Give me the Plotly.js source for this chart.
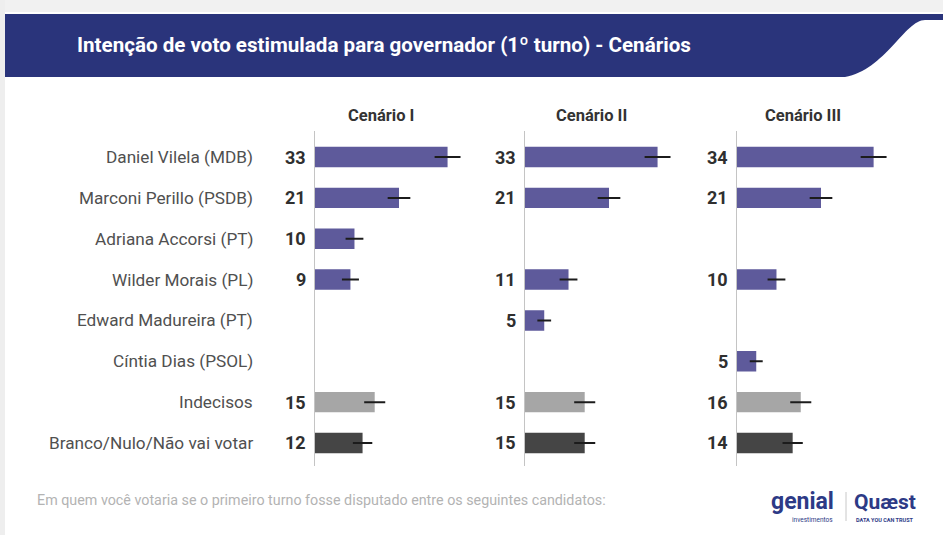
<!DOCTYPE html>
<html>
<head>
<meta charset="utf-8">
<script src="https://cdn.plot.ly/plotly-3.0.1.min.js"></script>
<style>html,body{margin:0;padding:0;background:#fff}#chart{width:943px;height:535px}</style>
</head>
<body>
<div id="chart"></div>
<script>
// ---- data ----
const categories = [
  "Daniel Vilela (MDB)",
  "Marconi Perillo (PSDB)",
  "Adriana Accorsi (PT)",
  "Wilder Morais (PL)",
  "Edward Madureira (PT)",
  "Cíntia Dias (PSOL)",
  "Indecisos",
  "Branco/Nulo/Não vai votar"
];
const scenarioNames = ["Cenário I", "Cenário II", "Cenário III"];
const cenario1 = [33, 21, 10, 9, null, null, 15, 12];
const cenario2 = [33, 21, null, 11, 5, null, 15, 15];
const cenario3 = [34, 21, null, 10, null, 5, 16, 14];
const margem1 = [3.2, 2.8, 2.2, 2.1, null, null, 2.6, 2.4];
const margem2 = [3.2, 2.8, null, 2.2, 1.7, null, 2.6, 2.6];
const margem3 = [3.2, 2.8, null, 2.2, null, 1.6, 2.6, 2.5];
const titleText = "Intenção de voto estimulada para governador (1º turno) - Cenários";
const footText = "Em quem você votaria se o primeiro turno fosse disputado entre os seguintes candidatos:";

// ---- layout helpers ----
const W = 943, H = 535;
const px = x => x / W;
const py = y => 1 - y / H;
const FONT = "Roboto, 'Noto Sans', sans-serif";

const values = [cenario1, cenario2, cenario3];
const margins = [margem1, margem2, margem3];
const panelLeft = [314, 524, 736];
const panelWidth = 170;
const xmax = 42;

function barColor(c) {
  if (c === "Indecisos") return "#a6a6a6";
  if (c.startsWith("Branco")) return "#454545";
  return "#5e5a9b";
}
const colors = categories.map(barColor);

const data = [];
const annotations = [];
const shapes = [];
const layout = {
  width: W, height: H,
  margin: {l: 0, r: 0, t: 0, b: 0},
  paper_bgcolor: "#ffffff",
  plot_bgcolor: "rgba(0,0,0,0)",
  showlegend: false,
  bargap: 0.5,
  yaxis: {
    type: "category",
    categoryorder: "array",
    categoryarray: categories,
    range: [categories.length - 0.5, -0.5],
    domain: [py(463.4), py(136.6)],
    showticklabels: false, showgrid: false, zeroline: false, showline: false,
    fixedrange: true
  }
};

values.forEach((vals, i) => {
  const xa = i === 0 ? "x" : "x" + (i + 1);
  const xkey = i === 0 ? "xaxis" : "xaxis" + (i + 1);
  layout[xkey] = {
    domain: [px(panelLeft[i]), px(panelLeft[i] + panelWidth)],
    range: [0, xmax], anchor: "y",
    showticklabels: false, showgrid: false, zeroline: false, showline: false,
    fixedrange: true
  };
  data.push({
    type: "bar", orientation: "h",
    x: vals, y: categories,
    xaxis: xa, yaxis: "y",
    marker: {color: colors, line: {width: 0}},
    error_x: {type: "data", array: margins[i], visible: true, color: "#1c1c1c", thickness: 2, width: 0},
    hoverinfo: "skip"
  });
  // axis line
  shapes.push({type: "line", xref: xa, yref: "paper", x0: 0, x1: 0,
    y0: py(466), y1: py(131), line: {color: "#c4c4c4", width: 2}, layer: "above"});
  // value labels
  vals.forEach((v, j) => {
    if (v === null) return;
    annotations.push({xref: xa, yref: "y", x: 0, y: categories[j], xanchor: "right",
      xshift: -6, yanchor: "middle", showarrow: false, text: "<b>" + v + "</b>",
      font: {family: FONT, size: 18, color: "#2f2f2f"}});
  });
  // scenario title
  annotations.push({xref: "paper", yref: "paper", x: px(panelLeft[i] + 67), y: py(115),
    xanchor: "center", yanchor: "middle", showarrow: false,
    text: "<b>" + scenarioNames[i] + "</b>", font: {family: FONT, size: 16.5, color: "#333333"}});
});

// category labels
categories.forEach(c => {
  annotations.push({xref: "paper", yref: "y", x: px(255), y: c, xanchor: "right", yanchor: "middle",
    showarrow: false, text: c, font: {family: FONT, size: 17.2, color: "#505050"}});
});

// frame & banner
shapes.push({type: "rect", xref: "paper", yref: "paper", x0: 0, x1: 1, y0: py(12), y1: 1,
  fillcolor: "#f1f1f1", line: {width: 0}, layer: "below"});
shapes.push({type: "rect", xref: "paper", yref: "paper", x0: 0, x1: px(5), y0: 0, y1: 1,
  fillcolor: "#eeeeee", line: {width: 0}, layer: "below"});
const bp = [
  ["M", 5, 14], ["L", 943, 14], ["L", 943, 20], ["L", 925, 20]
];
let path = bp.map(p => p[0] + " " + px(p[1]) + " " + py(p[2])).join(" ");
path += " C " + px(905) + " " + py(20) + " " + px(885) + " " + py(70) + " " + px(845) + " " + py(77);
path += " L " + px(5) + " " + py(77) + " Z";
shapes.push({type: "path", xref: "paper", yref: "paper", path: path,
  fillcolor: "#2a347b", line: {width: 0}, layer: "below"});

annotations.push({xref: "paper", yref: "paper", x: px(75), y: py(45), xanchor: "left", yanchor: "middle",
  showarrow: false, text: "<b>" + titleText + "</b>",
  font: {family: FONT, size: 20.6, color: "#ffffff"}});

// footer
annotations.push({xref: "paper", yref: "paper", x: px(35), y: py(500), xanchor: "left", yanchor: "middle",
  showarrow: false, text: footText, font: {family: FONT, size: 14.3, color: "#b3b3b3"}});

// logos (as text)
annotations.push({xref: "paper", yref: "paper", x: px(802), y: py(501), xanchor: "center", yanchor: "middle",
  showarrow: false, text: "<b>genial</b>", font: {family: FONT, size: 23, color: "#2d3a86"}});
annotations.push({xref: "paper", yref: "paper", x: px(812), y: py(520), xanchor: "center", yanchor: "middle",
  showarrow: false, text: "investimentos", font: {family: FONT, size: 6.5, color: "#2d3a86"}});
shapes.push({type: "line", xref: "paper", yref: "paper", x0: px(846), x1: px(846), y0: py(521), y1: py(492),
  line: {color: "#c8c8c8", width: 1}});
annotations.push({xref: "paper", yref: "paper", x: px(885), y: py(502), xanchor: "center", yanchor: "middle",
  showarrow: false, text: "<b>Quæst</b>", font: {family: FONT, size: 21, color: "#2d3a86"}});
annotations.push({xref: "paper", yref: "paper", x: px(885), y: py(520), xanchor: "center", yanchor: "middle",
  showarrow: false, text: "<b>DATA YOU CAN TRUST</b>", font: {family: FONT, size: 5.5, color: "#2d3a86"}});

layout.shapes = shapes;
layout.annotations = annotations;

Plotly.newPlot("chart", data, layout, {displayModeBar: false, staticPlot: true});
</script>
</body>
</html>
